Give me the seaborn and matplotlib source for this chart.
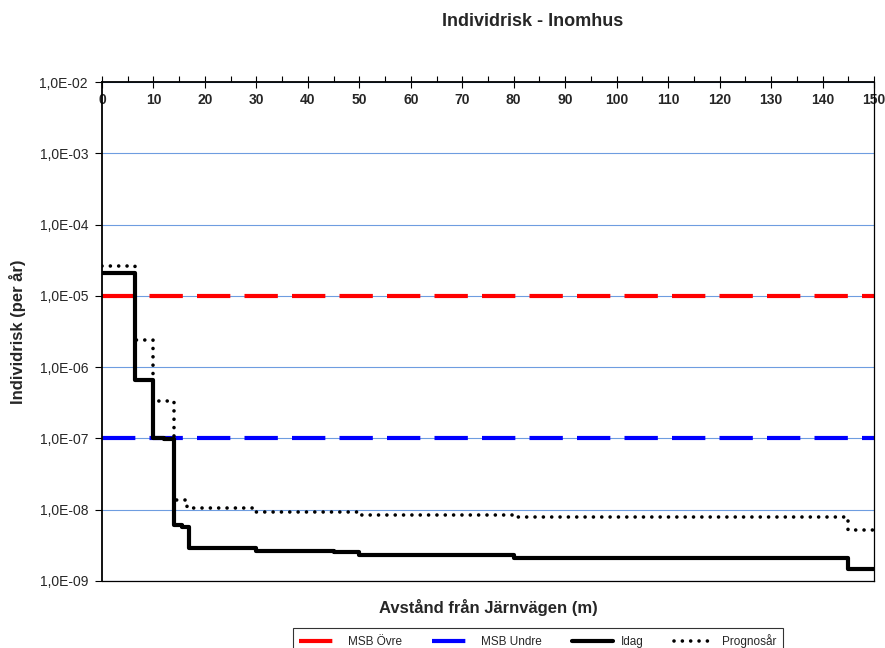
import numpy as np
import pandas as pd
import seaborn as sns
import matplotlib.pyplot as plt
from matplotlib.ticker import FixedLocator, MultipleLocator, FixedFormatter

# ---- data ----
idag_x = [0, 6.5, 10, 12, 14, 15.5, 17, 30, 45, 50, 80, 145, 150]
idag_y = [2.1e-5, 6.6e-7, 1.03e-7, 9.7e-8, 6.1e-9, 5.7e-9, 2.9e-9, 2.63e-9,
          2.57e-9, 2.32e-9, 2.1e-9, 1.48e-9, 1.48e-9]
prog_x = [0, 6.5, 10, 14, 16.5, 30, 50, 80, 145, 150]
prog_y = [2.63e-5, 2.4e-6, 3.36e-7, 1.38e-8, 1.07e-8, 9.3e-9, 8.5e-9,
          7.8e-9, 5.2e-9, 5.2e-9]
msb_x = [0, 150]
msb_ovre = [1e-5, 1e-5]
msb_undre = [1e-7, 1e-7]
ytick_vals = [1e-9, 1e-8, 1e-7, 1e-6, 1e-5, 1e-4, 1e-3, 1e-2]
ytick_labels = ["1,0E-09", "1,0E-08", "1,0E-07", "1,0E-06", "1,0E-05",
                "1,0E-04", "1,0E-03", "1,0E-02"]
xtick_vals = list(range(0, 151, 10))

sns.set_theme(style="white")
plt.rcParams['font.family'] = ['Liberation Sans', 'DejaVu Sans']

fig = plt.figure(figsize=(8.85, 6.48), dpi=100)
ax = fig.add_axes([102/885, 1-581/648, (874-102)/885, (581-82)/648])

df_ovre = pd.DataFrame({"x": msb_x, "y": msb_ovre})
df_undre = pd.DataFrame({"x": msb_x, "y": msb_undre})
df_idag = pd.DataFrame({"x": idag_x, "y": idag_y})
df_prog = pd.DataFrame({"x": prog_x, "y": prog_y})

sns.lineplot(data=df_ovre, x="x", y="y", ax=ax, color="#FF0000", lw=3,
             label="MSB Övre", zorder=2)
ax.lines[-1].set_dashes((8, 3.4))
sns.lineplot(data=df_undre, x="x", y="y", ax=ax, color="#0000FF", lw=3,
             label="MSB Undre", zorder=2)
ax.lines[-1].set_dashes((8, 3.4))
sns.lineplot(data=df_idag, x="x", y="y", ax=ax, color="black", lw=3,
             drawstyle="steps-post", label="Idag", zorder=3)
sns.lineplot(data=df_prog, x="x", y="y", ax=ax, color="black", lw=2.6,
             drawstyle="steps-post", label="Prognosår", zorder=3)
ln = ax.lines[-1]
ln.set_linestyle((0, (0.01, 2.3)))
ln.set_dash_capstyle("round")

ax.set_yscale("log")
ax.set_ylim(1e-9, 1e-2)
ax.set_xlim(0, 150)
ax.yaxis.set_major_locator(FixedLocator(ytick_vals))
ax.yaxis.set_major_formatter(FixedFormatter(ytick_labels))
ax.yaxis.set_minor_locator(FixedLocator([]))
ax.grid(axis="y", color="#6E9DE0", lw=0.8)
ax.set_axisbelow(True)

ax.xaxis.tick_top()
ax.xaxis.set_major_locator(FixedLocator(xtick_vals))
ax.xaxis.set_minor_locator(MultipleLocator(5))
ax.tick_params(axis="x", which="major", direction="inout", length=8, width=0.8,
               color="black", pad=-22, labelsize=10)
ax.tick_params(axis="x", which="minor", direction="out", length=4, width=0.8,
               color="black", top=True)
for t in ax.get_xticklabels():
    t.set_fontweight("bold")
ax.tick_params(axis="y", which="major", direction="out", length=5, width=0.8,
               color="black", left=True, labelsize=10, pad=5)

for s in ax.spines.values():
    s.set_color("black")
    s.set_linewidth(0.9)
ax.spines["left"].set_linewidth(1.3)
ax.spines["top"].set_linewidth(1.3)

ax.set_xlabel("")
ax.set_ylabel("")
fig.text(533/885, 1-22/648, "Individrisk - Inomhus", ha="center", va="center",
         fontsize=13, fontweight="bold")
fig.text(488/885, 1-607/648, "Avstånd från Järnvägen (m)", ha="center",
         va="center", fontsize=12, fontweight="bold")
fig.text(18/885, 1-332/648, "Individrisk (per år)", ha="center", va="center",
         rotation=90, fontsize=12, fontweight="bold")

leg = ax.legend(loc="upper center", bbox_to_anchor=(538/885, 1-622/648),
                bbox_transform=fig.transFigure, ncol=4, fontsize=8.5,
                frameon=True, fancybox=False, handlelength=3.5,
                columnspacing=2.6, borderpad=0.5, handletextpad=0.6)
leg.get_frame().set_edgecolor("black")
leg.get_frame().set_linewidth(0.8)

fig.savefig("out.png", dpi=100)
